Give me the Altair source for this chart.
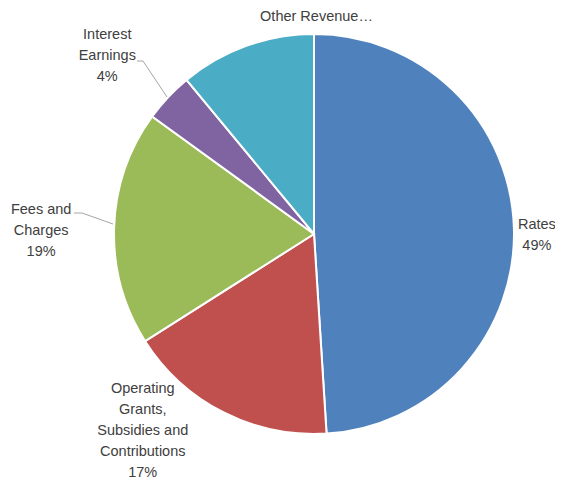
import altair as alt
import pandas as pd

categories = ["Rates", "Operating Grants, Subsidies and Contributions", "Fees and Charges",
              "Interest Earnings", "Other Revenue"]
values = [49, 17, 19, 4, 11]
label_texts = ["Rates\n49%", "Operating\nGrants,\nSubsidies and\nContributions\n17%",
               "Fees and\nCharges\n19%", "Interest\nEarnings\n4%", "Other Revenue…"]
colors = ["#4F81BD", "#C0504D", "#9BBB59", "#8064A2", "#4BACC6"]

total = sum(values)
cum = []
s = 0
for v in values:
    cum.append(s + v / 2)
    s += v
df = pd.DataFrame({"cat": categories, "value": values, "idx": list(range(len(values))),
                   "mid": cum, "label": label_texts})

theta_scale = alt.Scale(domain=[0, total])

arcs = alt.Chart(df).mark_arc(outerRadius=200, stroke="white", strokeWidth=2).encode(
    theta=alt.Theta("value:Q", stack=True, scale=theta_scale),
    order=alt.Order("idx:Q"),
    color=alt.Color("cat:N", scale=alt.Scale(domain=categories, range=colors), legend=None),
)

# per-label placement (radius, dx, dy)
place = {
    "Rates": (223, 0, -2),
    "Operating Grants, Subsidies and Contributions": (223, -70, -44),
    "Fees and Charges": (273, 0, -15),
    "Interest Earnings": (274, -7, -11),
    "Other Revenue": (217, 76, -13),
}

layers = [arcs]
for c in categories:
    r, dx, dy = place[c]
    layers.append(
        alt.Chart(df).transform_filter(alt.datum.cat == c).mark_text(
            radius=r, dx=dx, dy=dy, align="center", baseline="middle", lineBreak="\n",
            font="Liberation Sans", fontSize=14.5, lineHeight=21, color="#404040"
        ).encode(
            theta=alt.Theta("mid:Q", stack=None, scale=theta_scale),
            text="label:N",
        )
    )

# leader lines
leaders = [
    (64, 53, 70, 53), (70, 53, 94, 89),
    (1, 205, 9, 205), (9, 205, 40, 216),
]
for x1, y1, x2, y2 in leaders:
    layers.append(
        alt.Chart(df).transform_filter(alt.datum.idx == 0).mark_rule(color="#A6A6A6", strokeWidth=1).encode(
            x=alt.value(x1), y=alt.value(y1), x2=alt.value(x2), y2=alt.value(y2)
        )
    )

chart = alt.layer(*layers).properties(
    width=482, height=452,
    padding={"left": 65, "top": 0, "right": 0, "bottom": 19},
    autosize=alt.AutoSizeParams(type="none"),
    background="white",
).configure_view(stroke=None, strokeWidth=0)

chart.save("out.html", embed_options={"renderer": "svg", "actions": False})
